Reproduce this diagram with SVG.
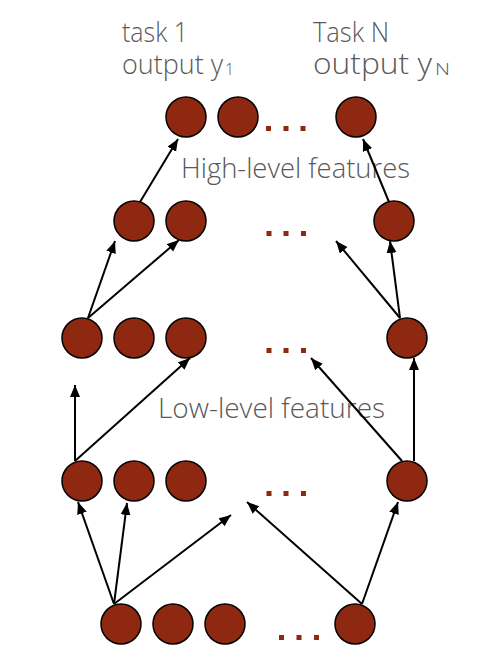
<svg xmlns="http://www.w3.org/2000/svg" width="503" height="661" viewBox="0 0 503 661">
<defs>
<marker id="ah" markerUnits="userSpaceOnUse" markerWidth="13" markerHeight="11" refX="12" refY="5" orient="auto">
<path d="M0,0 L12,5 L0,10 z" fill="#000"/>
</marker>
<style>
.n{fill:#8e2811;stroke:#000;stroke-width:1.5}
.d{fill:#8e2811}
.e{stroke:#000;stroke-width:2;fill:none;marker-end:url(#ah)}
.t{font-family:"Open Sans",Lato,sans-serif;font-size:27px;font-weight:300;fill:#595959}
.s{font-family:"Open Sans",Lato,sans-serif;font-size:16px;font-weight:300;fill:#595959}
</style>
</defs>
<rect width="503" height="661" fill="#fff"/>
<g id="labels">
<text class="t" x="122" y="42" textLength="66" lengthAdjust="spacingAndGlyphs">task 1</text>
<text class="t" x="122" y="74" textLength="101" lengthAdjust="spacingAndGlyphs">output y</text>
<text class="s" x="225" y="75">1</text>
<text class="t" x="313" y="42" textLength="76" lengthAdjust="spacingAndGlyphs">Task N</text>
<text class="t" x="313" y="74" style="font-size:30px" textLength="119" lengthAdjust="spacingAndGlyphs">output y</text>
<text class="s" x="435" y="75" style="font-size:17px" textLength="15" lengthAdjust="spacingAndGlyphs">N</text>
<text class="t" x="181" y="178" style="font-size:28px" textLength="229" lengthAdjust="spacingAndGlyphs">High-level features</text>
<text class="t" x="158" y="418" style="font-size:28px" textLength="227" lengthAdjust="spacingAndGlyphs">Low-level features</text>
</g>
<g id="connectors">
<line class="e" x1="140" y1="202" x2="178" y2="139"/>
<line class="e" x1="389" y1="202" x2="363" y2="139"/>
<line class="e" x1="88" y1="318" x2="115" y2="241"/>
<line class="e" x1="88" y1="318" x2="179" y2="240"/>
<line class="e" x1="400" y1="318" x2="336" y2="241"/>
<line class="e" x1="400" y1="318" x2="390" y2="241"/>
<line class="e" x1="75" y1="461" x2="75" y2="385"/>
<line class="e" x1="75" y1="461" x2="190" y2="358"/>
<line class="e" x1="414" y1="461" x2="414" y2="358"/>
<line class="e" x1="402" y1="461" x2="311" y2="358"/>
<line class="e" x1="114" y1="604" x2="78" y2="502"/>
<line class="e" x1="114" y1="604" x2="127" y2="503"/>
<line class="e" x1="114" y1="604" x2="231" y2="515"/>
<line class="e" x1="362" y1="604" x2="247" y2="502"/>
<line class="e" x1="362" y1="604" x2="398" y2="502"/>
</g>
<g id="row1">
<circle class="n" cx="186" cy="117" r="20"/>
<circle class="n" cx="238" cy="117" r="20"/>
<circle class="n" cx="356" cy="117" r="20"/>
<rect class="d" x="266" y="126" width="5" height="5"/><rect class="d" x="283.5" y="126" width="5" height="5"/><rect class="d" x="300.5" y="126" width="5" height="5"/>
</g>
<g id="row2">
<circle class="n" cx="134" cy="221" r="20"/>
<circle class="n" cx="186" cy="221" r="20"/>
<circle class="n" cx="394" cy="221" r="20"/>
<rect class="d" x="266.5" y="231" width="5" height="5"/><rect class="d" x="283.5" y="231" width="5" height="5"/><rect class="d" x="301" y="231" width="5" height="5"/>
</g>
<g id="row3">
<circle class="n" cx="82" cy="338" r="20"/>
<circle class="n" cx="134" cy="338" r="20"/>
<circle class="n" cx="186" cy="338" r="20"/>
<circle class="n" cx="407" cy="338" r="20"/>
<rect class="d" x="266.5" y="348" width="5" height="5"/><rect class="d" x="283.5" y="348" width="5" height="5"/><rect class="d" x="301" y="348" width="5" height="5"/>
</g>
<g id="row4">
<circle class="n" cx="82" cy="481" r="20"/>
<circle class="n" cx="134" cy="481" r="20"/>
<circle class="n" cx="186" cy="481" r="20"/>
<circle class="n" cx="407" cy="481" r="20"/>
<rect class="d" x="266.5" y="491" width="5" height="5"/><rect class="d" x="283.5" y="491" width="5" height="5"/><rect class="d" x="301" y="491" width="5" height="5"/>
</g>
<g id="row5">
<circle class="n" cx="121" cy="624" r="20"/>
<circle class="n" cx="173" cy="624" r="20"/>
<circle class="n" cx="225" cy="624" r="20"/>
<circle class="n" cx="355" cy="624" r="20"/>
<rect class="d" x="279" y="635" width="5" height="5"/><rect class="d" x="296.5" y="635" width="5" height="5"/><rect class="d" x="314" y="635" width="5" height="5"/>
</g>
</svg>
